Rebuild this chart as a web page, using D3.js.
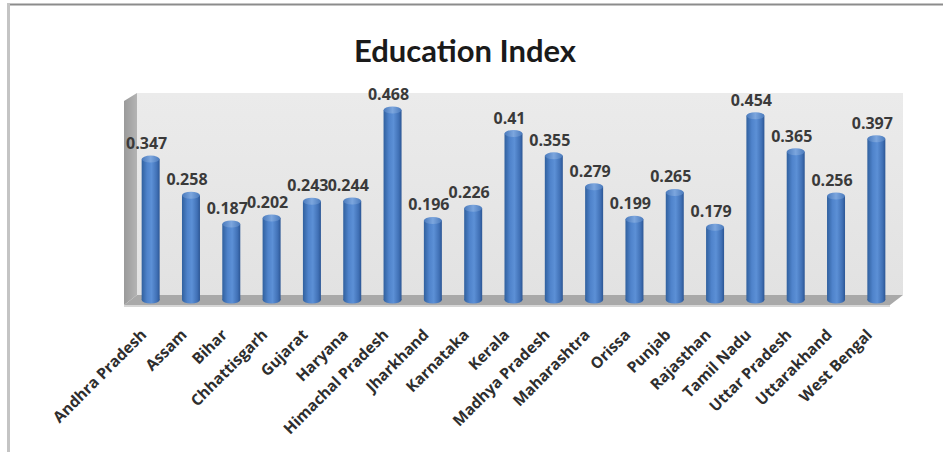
<!DOCTYPE html>
<html>
<head>
<meta charset="utf-8">
<script src="https://cdn.jsdelivr.net/npm/d3@7/dist/d3.min.js"></script>
<style>
  html, body { margin: 0; padding: 0; background: #ffffff; }
  svg { display: block; }
</style>
</head>
<body>
<svg id="chart" width="943" height="452"></svg>
<script>
// Education Index by state
const states = [
  "Andhra Pradesh", "Assam", "Bihar", "Chhattisgarh", "Gujarat", "Haryana",
  "Himachal Pradesh", "Jharkhand", "Karnataka", "Kerala", "Madhya Pradesh",
  "Maharashtra", "Orissa", "Punjab", "Rajasthan", "Tamil Nadu",
  "Uttar Pradesh", "Uttarakhand", "West Bengal"
];
const educationIndex = [
  0.347, 0.258, 0.187, 0.202, 0.243, 0.244,
  0.468, 0.196, 0.226, 0.41, 0.355,
  0.279, 0.199, 0.265, 0.179, 0.454,
  0.365, 0.256, 0.397
];
const valueLabels = [
  "0.347", "0.258", "0.187", "0.202", "0.243", "0.244",
  "0.468", "0.196", "0.226", "0.41", "0.355",
  "0.279", "0.199", "0.265", "0.179", "0.454",
  "0.365", "0.256", "0.397"
];
const chartTitle = "Education Index";
const yDomain = [0, 0.5];

const svg = d3.select("#chart");
const W = 943, H = 452;

// 3D depth offset of the plot box (back plane relative to front plane)
const depthX = 13, depthY = -8;

// scales are defined on the mid-depth plane, where the cylinders stand
const x = d3.scaleBand().domain(states).range([130.5, 896.5]).paddingInner(0).paddingOuter(0);
const y = d3.scaleLinear().domain(yDomain).range([300, 97]);

const defs = svg.append("defs");

const cyl = defs.append("linearGradient").attr("id", "cyl").attr("x1", "0%").attr("x2", "100%");
cyl.append("stop").attr("offset", "0%").attr("stop-color", "#30609e");
cyl.append("stop").attr("offset", "30%").attr("stop-color", "#4f83cb");
cyl.append("stop").attr("offset", "55%").attr("stop-color", "#5c90d6");
cyl.append("stop").attr("offset", "85%").attr("stop-color", "#4070b5");
cyl.append("stop").attr("offset", "100%").attr("stop-color", "#2c5694");

const cap = defs.append("linearGradient").attr("id", "cap").attr("x1", "0%").attr("x2", "100%");
cap.append("stop").attr("offset", "0%").attr("stop-color", "#4a7abc");
cap.append("stop").attr("offset", "50%").attr("stop-color", "#7ca6de");
cap.append("stop").attr("offset", "100%").attr("stop-color", "#4a7abc");

const wall = defs.append("linearGradient").attr("id", "wall").attr("x1", "0%").attr("x2", "0%").attr("y1", "0%").attr("y2", "100%");
wall.append("stop").attr("offset", "0%").attr("stop-color", "#ebebeb");
wall.append("stop").attr("offset", "100%").attr("stop-color", "#e2e2e2");

const side = defs.append("linearGradient").attr("id", "side").attr("x1", "0%").attr("x2", "100%");
side.append("stop").attr("offset", "0%").attr("stop-color", "#9a9a9a");
side.append("stop").attr("offset", "100%").attr("stop-color", "#b4b4b4");

// outer frame: top and left edges
svg.append("line").attr("x1", 7).attr("x2", W).attr("y1", 4.5).attr("y2", 4.5)
  .attr("stroke", "#8c8c8c").attr("stroke-width", 2);
svg.append("line").attr("x1", 8.5).attr("x2", 8.5).attr("y1", 4).attr("y2", H)
  .attr("stroke", "#c4c4c4").attr("stroke-width", 3);

// plot box geometry from the scales
const x0 = x.range()[0], x1 = x.range()[1];
const yBase = y(0), yTop = y(yDomain[1]);
const frontL = x0 - depthX / 2, frontR = x1 - depthX / 2;
const backL = x0 + depthX / 2, backR = x1 + depthX / 2;
const floorFront = yBase - depthY / 2 + 1, floorBack = yBase + depthY / 2 - 1;
const wallTop = yTop + depthY / 2;

// back wall
svg.append("rect").attr("x", backL).attr("y", wallTop)
  .attr("width", backR - backL).attr("height", floorBack - wallTop)
  .attr("fill", "url(#wall)");

// side wall
svg.append("path")
  .attr("d", `M${frontL},${wallTop - depthY}L${backL},${wallTop}L${backL},${floorBack}L${frontL},${floorFront}Z`)
  .attr("fill", "url(#side)");

// floor
svg.append("path")
  .attr("d", `M${frontL},${floorFront}L${backL},${floorBack}L${backR},${floorBack}L${frontR},${floorFront}Z`)
  .attr("fill", "#a9a9a9");
svg.append("line").attr("x1", frontL).attr("x2", frontR).attr("y1", floorFront + 1).attr("y2", floorFront + 1)
  .attr("stroke", "#c8c8c8").attr("stroke-width", 1.5);

// cylinders
const barW = 18, ry = 3.5;
const bars = svg.append("g").selectAll("g").data(states).join("g");
bars.append("rect")
  .attr("x", d => x(d) + x.bandwidth() / 2 - barW / 2)
  .attr("y", (d, i) => y(educationIndex[i]))
  .attr("width", barW)
  .attr("height", (d, i) => yBase - y(educationIndex[i]))
  .attr("fill", "url(#cyl)");
bars.append("ellipse")
  .attr("cx", d => x(d) + x.bandwidth() / 2)
  .attr("cy", yBase)
  .attr("rx", barW / 2).attr("ry", ry)
  .attr("fill", "url(#cyl)");
bars.append("ellipse")
  .attr("cx", d => x(d) + x.bandwidth() / 2)
  .attr("cy", (d, i) => y(educationIndex[i]))
  .attr("rx", barW / 2).attr("ry", ry)
  .attr("fill", "url(#cap)");

// value labels
svg.append("g").selectAll("text").data(states).join("text")
  .attr("x", d => x(d) + x.bandwidth() / 2 - 4)
  .attr("y", (d, i) => y(educationIndex[i]) - 10)
  .attr("text-anchor", "middle")
  .attr("font-family", "'Open Sans', sans-serif")
  .attr("font-weight", "bold")
  .attr("font-size", 16)
  .attr("fill", "#3a3a3a")
  .text((d, i) => valueLabels[i]);

// category axis labels, rotated
const xAxis = d3.axisBottom(x).tickSize(0).tickPadding(0);
const gx = svg.append("g").attr("transform", `translate(0,${floorFront})`).call(xAxis);
gx.select(".domain").remove();
gx.selectAll(".tick text")
  .attr("text-anchor", "end")
  .attr("font-family", "'Open Sans', sans-serif")
  .attr("font-weight", "bold")
  .attr("font-size", 15.5)
  .attr("fill", "#2e2e2e")
  .attr("dy", "0.35em")
  .attr("transform", "translate(-7,27) rotate(-45)");

// title
svg.append("text")
  .attr("x", 465).attr("y", 62)
  .attr("text-anchor", "middle")
  .attr("font-family", "Lato, 'Open Sans', sans-serif")
  .attr("font-weight", "bold")
  .attr("font-size", 31)
  .attr("fill", "#1a1a1a")
  .text(chartTitle);
</script>
</body>
</html>
